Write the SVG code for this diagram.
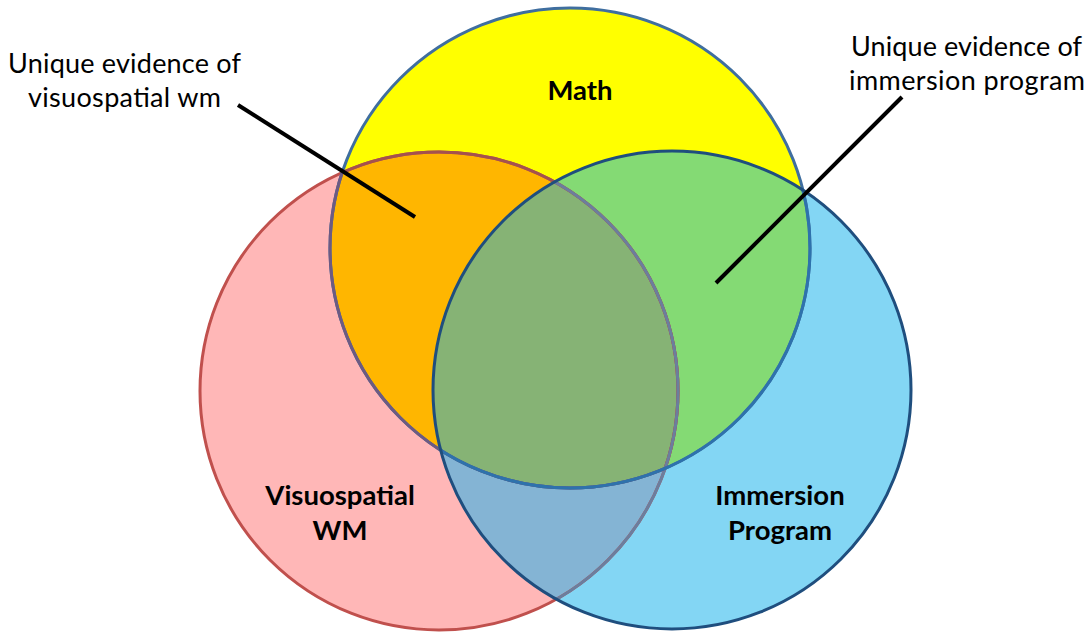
<svg xmlns="http://www.w3.org/2000/svg" width="1089" height="632" viewBox="0 0 1089 632">
<style>
.lbl{font-family:Lato,"Open Sans","Liberation Sans",sans-serif;font-size:27px;fill:#000}
.ttl{font-family:Lato,"Open Sans","Liberation Sans",sans-serif;font-size:27.5px;font-weight:bold;fill:#000;text-anchor:middle}
.ptr{stroke:#000;stroke-width:4;fill:none}
.o{fill:none;stroke-width:3}
</style>
<defs>
<circle id="cP" cx="439" cy="391" r="239"/>
<circle id="cY" cx="570" cy="248" r="240"/>
<circle id="cB" cx="672" cy="390" r="239"/>
<clipPath id="kP"><use href="#cP"/></clipPath>
<clipPath id="kY"><use href="#cY"/></clipPath>
<clipPath id="kB"><use href="#cB"/></clipPath>
</defs>
<rect width="1089" height="632" fill="#fff"/>
<g id="visuospatial"><use href="#cP" fill="#FFB7B7"/></g>
<g id="math"><use href="#cY" fill="#FFFF00"/></g>
<g id="immersion"><use href="#cB" fill="#83D6F4"/></g>
<g id="overlaps">
<use href="#cP" fill="#FFB600" clip-path="url(#kY)"/>
<use href="#cY" fill="#84DA74" clip-path="url(#kB)"/>
<use href="#cP" fill="#84B4D4" clip-path="url(#kB)"/>
<g clip-path="url(#kB)"><use href="#cP" fill="#86B375" clip-path="url(#kY)"/></g>
</g>
<g id="outlines">
<use href="#cP" class="o" stroke="#C0504D"/>
<use href="#cP" class="o" stroke="#A4524E" clip-path="url(#kY)"/>
<use href="#cP" class="o" stroke="#6B7E9E" clip-path="url(#kB)"/>
<use href="#cY" class="o" stroke="#3F6E9F"/>
<use href="#cY" class="o" stroke="#6D5A82" clip-path="url(#kP)"/>
<use href="#cY" class="o" stroke="#2E72AC" clip-path="url(#kB)"/>
<use href="#cB" class="o" stroke="#1F4E7E"/>
</g>
<g id="titles">
<text class="ttl" x="580" y="100">Math</text>
<text class="ttl" x="340" y="505">Visuospatial</text>
<text class="ttl" x="340" y="540">WM</text>
<text class="ttl" x="780" y="505">Immersion</text>
<text class="ttl" x="780" y="540">Program</text>
</g>
<g id="callout-left">
<text class="lbl" x="8" y="73" textLength="233">Unique evidence of</text>
<text class="lbl" x="28" y="107" textLength="193">visuospatial wm</text>
</g>
<g id="callout-right">
<text class="lbl" x="851" y="56" textLength="231">Unique evidence of</text>
<text class="lbl" x="849" y="90" textLength="236">immersion program</text>
</g>
<g id="connectors">
<line class="ptr" x1="238" y1="105" x2="415" y2="217"/>
<line class="ptr" x1="902" y1="97" x2="716" y2="283"/>
</g>
</svg>
